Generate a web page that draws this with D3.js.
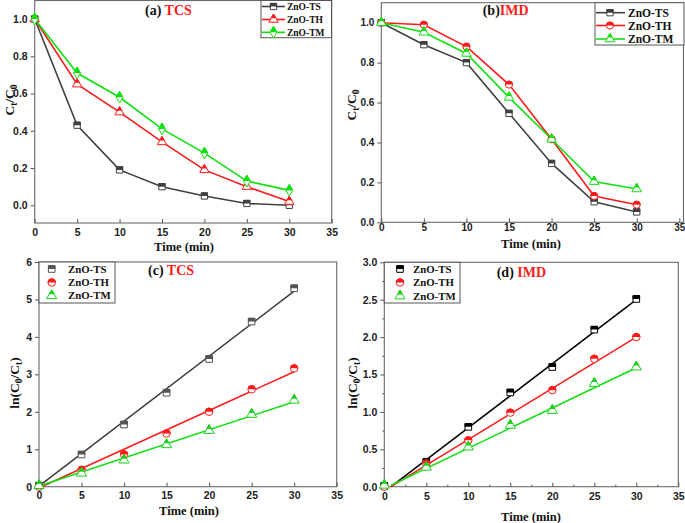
<!DOCTYPE html>
<html><head><meta charset="utf-8">
<script src="https://cdn.jsdelivr.net/npm/d3@7"></script>
<style>body{margin:0;background:#fff}svg{display:block}</style>
</head><body>
<svg id="c" width="685" height="523"></svg>
<script>
// ---------- data ----------
const times = [0, 5, 10, 15, 20, 25, 30];
const seriesNames = ["ZnO-TS", "ZnO-TH", "ZnO-TM"];
// (a) TCS  Ct/C0
const aTS = [1.00, 0.43, 0.19, 0.10, 0.05, 0.01, 0.00];
const aTH = [1.00, 0.65, 0.50, 0.34, 0.19, 0.10, 0.02];
const aTM = [1.00, 0.71, 0.58, 0.41, 0.28, 0.13, 0.08];
// (b) IMD  Ct/C0
const bTS = [1.00, 0.89, 0.80, 0.546, 0.295, 0.103, 0.052];
const bTH = [1.00, 0.99, 0.88, 0.69, 0.416, 0.132, 0.088];
const bTM = [1.00, 0.952, 0.846, 0.626, 0.416, 0.204, 0.167];
// (c) TCS  ln(C0/Ct)
const cTS = [0.03, 0.86, 1.66, 2.51, 3.41, 4.41, 5.30];
const cTH = [0.00, 0.45, 0.86, 1.42, 2.00, 2.60, 3.16];
const cTM = [0.03, 0.36, 0.71, 1.12, 1.50, 1.93, 2.31];
const cFitX = [0.3, 30];
const cFitTS = [0.07, 5.22];
const cFitTH = [0.00, 3.07];
const cFitTM = [0.04, 2.27];
// (d) IMD  ln(C0/Ct)
const dTS = [0.01, 0.33, 0.80, 1.26, 1.60, 2.10, 2.51];
const dTH = [0.00, 0.31, 0.62, 0.99, 1.29, 1.71, 2.00];
const dTM = [0.02, 0.26, 0.53, 0.82, 1.02, 1.38, 1.60];
const dFitX = [0.8, 30];
const dFitTS = [0.00, 2.50];
const dFitTH = [0.00, 2.00];
const dFitTM = [0.02, 1.59];
const xTicks = [0, 5, 10, 15, 20, 25, 30, 35];
const yTicksAB = [0, 0.2, 0.4, 0.6, 0.8, 1.0];
const yTicksC = [0, 1, 2, 3, 4, 5, 6];
const yTicksD = [0, 0.5, 1.0, 1.5, 2.0, 2.5, 3.0];

// ---------- drawing ----------
const svg = d3.select("#c");
const defs = svg.append("defs");
defs.append("clipPath").attr("id", "tophalf").attr("clipPathUnits", "objectBoundingBox")
  .append("rect").attr("x", -0.1).attr("y", -0.1).attr("width", 1.2).attr("height", 0.6);

const SERIF = "'Liberation Serif','Times New Roman',serif";
const SANS = "'Liberation Sans',Arial,sans-serif";
const RED = "#ff1a1a", GREEN = "#10e010", GRAY = "#404040";

function marker(g, type, x, y, size, color) {
  const sym = d3.symbol().type(type).size(size)();
  const m = g.append("g").attr("transform", `translate(${x},${y})`);
  m.append("path").attr("d", sym).attr("fill", "#fff").attr("stroke", color).attr("stroke-width", 1);
  m.append("path").attr("d", sym).attr("fill", color).attr("stroke", color).attr("stroke-width", 1)
    .attr("clip-path", "url(#tophalf)");
}

function panel(cfg) {
  const g = svg.append("g");
  const x = d3.scaleLinear().domain([0, 35]).range(cfg.xr);
  const y = d3.scaleLinear().domain(cfg.yd).range(cfg.yr);
  const f = cfg.frame;
  g.append("rect").attr("x", f.l).attr("y", f.t).attr("width", f.r - f.l).attr("height", f.b - f.t)
    .attr("fill", "none").attr("stroke", "#6a6a6a").attr("stroke-width", 1.1);
  const ya = d3.axisLeft(y).tickValues(cfg.yTicks).tickSize(4).tickPadding(3).tickFormat(cfg.yFmt);
  const yg = g.append("g").attr("transform", `translate(${f.l},0)`).call(ya);
  const xa = d3.axisBottom(x).tickValues(xTicks).tickSizeInner(-4).tickSizeOuter(0).tickPadding(cfg.xpad).tickFormat(d3.format("d"));
  const xg = g.append("g").attr("transform", `translate(0,${f.b})`).call(xa);
  [yg, xg].forEach(a => {
    a.select(".domain").remove();
    a.selectAll("line").attr("stroke", "#555");
    a.selectAll("text").attr("font-family", SANS).attr("font-weight", "bold").attr("font-size", cfg.tfs || 10.5).attr("fill", "#222");
  });
  if (cfg.minor) {
    const ym = d3.axisLeft(y).tickValues(cfg.minorY).tickSize(2).tickFormat("");
    const ymg = g.append("g").attr("transform", `translate(${f.l},0)`).call(ym);
    const xm = d3.axisBottom(x).tickValues(cfg.minorX).tickSizeInner(-2).tickSizeOuter(0).tickFormat("");
    const xmg = g.append("g").attr("transform", `translate(0,${f.b})`).call(xm);
    [ymg, xmg].forEach(a => { a.select(".domain").remove(); a.selectAll("line").attr("stroke", "#555"); });
  }
  cfg.series.forEach(s => {
    if (s.connect) {
      g.append("path").datum(s.values)
        .attr("d", d3.line().x((d, i) => x(times[i])).y(d => y(d)))
        .attr("fill", "none").attr("stroke", s.color).attr("stroke-width", 1.6);
    }
    if (s.fit) {
      g.append("path").datum(s.fit)
        .attr("d", d3.line().x((d, i) => x(s.fitX[i])).y(d => y(d)))
        .attr("fill", "none").attr("stroke", s.lineColor || s.color).attr("stroke-width", 1.5);
    }
  });
  cfg.series.forEach(s => {
    s.values.forEach((v, i) => marker(g, s.type, x(times[i]), y(v), s.size, s.markColor || s.color));
  });
  const L = cfg.legend;
  g.append("rect").attr("x", L.x0).attr("y", L.y0).attr("width", L.x1 - L.x0).attr("height", L.y1 - L.y0)
    .attr("fill", "#fff").attr("stroke", "#555").attr("stroke-width", 1);
  cfg.series.forEach((s, i) => {
    const yy = L.rows[i];
    if (L.lines) {
      g.append("line").attr("x1", L.lx0).attr("x2", L.lx1).attr("y1", yy).attr("y2", yy)
        .attr("stroke", s.color).attr("stroke-width", 1.6);
    }
    marker(g, s.type, L.mx, yy, s.size, s.markColor || s.color);
    g.append("text").attr("x", L.tx).attr("y", yy + L.fs * 0.35).text(seriesNames[i])
      .attr("font-family", SERIF).attr("font-weight", "bold").attr("font-size", L.fs).attr("fill", "#111");
  });
  const t = g.append("text").attr("x", cfg.title.x).attr("y", cfg.title.y)
    .attr("font-family", SERIF).attr("font-weight", "bold").attr("font-size", 14);
  t.append("tspan").text(cfg.title.p).attr("fill", "#111");
  t.append("tspan").text(cfg.title.n).attr("fill", "#ff1a1a");
  g.append("text").attr("x", cfg.xl.x).attr("y", cfg.xl.y).attr("text-anchor", "middle")
    .attr("font-family", SERIF).attr("font-weight", "bold").attr("font-size", 12.5).attr("fill", "#111")
    .text("Time (min)");
  const yl = g.append("text").attr("transform", `translate(${cfg.yl.x},${cfg.yl.y}) rotate(-90)`)
    .attr("text-anchor", "middle").attr("font-family", SERIF).attr("font-weight", "bold")
    .attr("font-size", 13.5).attr("fill", "#111");
  cfg.yl.parts.forEach(p => {
    const ts = yl.append("tspan").text(p[0]);
    if (p[1]) ts.attr("font-size", p[1] > 0 ? 9.5 : 13.5).attr("dy", p[1]);
  });
}

panel({
  xr: [34.7, 331.7], yd: [0, 1], yr: [205.3, 19], xpad: 6,
  frame: { l: 34.7, r: 331.7, t: 0.5, b: 223 },
  yTicks: yTicksAB, yFmt: d3.format(".1f"),
  series: [
    { values: aTS, color: GRAY, type: d3.symbolSquare, size: 40, connect: true },
    { values: aTH, color: RED, type: d3.symbolTriangle, size: 38, connect: true },
    { values: aTM, color: GREEN, type: d3.symbolDiamond, size: 40, connect: true }
  ],
  legend: { x0: 261, x1: 331.5, y0: 0.5, y1: 37.7, rows: [6.5, 19.5, 32.3], lines: true, lx0: 262, lx1: 285, mx: 273.5, tx: 287, fs: 9.5 },
  title: { x: 145, y: 15, p: "(a) ", n: "TCS" },
  xl: { x: 184, y: 251 },
  yl: { x: 14, y: 100, parts: [["C"], ["t", 3], ["/C", -3], ["0", 3]] }
});

panel({
  xr: [381.3, 679.3], yd: [0, 1], yr: [222.3, 22.7], xpad: 2, tfs: 10,
  frame: { l: 381.3, r: 683.5, t: 2.7, b: 222.3 },
  yTicks: yTicksAB, yFmt: d3.format(".1f"),
  series: [
    { values: bTS, color: GRAY, type: d3.symbolSquare, size: 40, connect: true },
    { values: bTH, color: RED, type: d3.symbolCircle, size: 40, connect: true },
    { values: bTM, color: GREEN, type: d3.symbolTriangle, size: 40, connect: true }
  ],
  legend: { x0: 595, x1: 684, y0: 2.7, y1: 45, rows: [12.7, 25.5, 39], lines: true, lx0: 596, lx1: 625, mx: 610, tx: 628, fs: 11.5 },
  title: { x: 482.7, y: 14.5, p: "(b)", n: "IMD" },
  xl: { x: 531, y: 247.5 },
  yl: { x: 356, y: 105, parts: [["C"], ["t", 3], ["/C", -3], ["0", 3]] }
});

panel({
  xr: [39, 336.7], yd: [0, 6], yr: [486.7, 262], xpad: 5,
  frame: { l: 39, r: 336.7, t: 262, b: 486.7 },
  yTicks: yTicksC, yFmt: d3.format("d"),
  series: [
    { values: cTS, color: "#3a3a3a", markColor: "#555", type: d3.symbolSquare, size: 44, fit: cFitTS, fitX: cFitX },
    { values: cTH, color: RED, type: d3.symbolCircle, size: 44, fit: cFitTH, fitX: cFitX },
    { values: cTM, color: GREEN, markColor: "#1ad01a", type: d3.symbolTriangle, size: 44, fit: cFitTM, fitX: cFitX }
  ],
  legend: { x0: 39, x1: 115, y0: 262, y1: 303, rows: [269, 282.5, 295.7], lines: false, mx: 51.7, tx: 68, fs: 10.8 },
  title: { x: 148, y: 275, p: "(c) ", n: "TCS" },
  xl: { x: 189, y: 515 },
  yl: { x: 19, y: 383, parts: [["ln(C"], ["0", 3], ["/C", -3], ["t", 3], [")", -3]] }
});

panel({
  xr: [384.3, 678.3], yd: [0, 3], yr: [486.7, 262.3], xpad: 6,
  frame: { l: 384.3, r: 678.3, t: 262.3, b: 486.7 },
  yTicks: yTicksD, yFmt: d3.format(".1f"),
  minor: true, minorY: [0.25, 0.75, 1.25, 1.75, 2.25, 2.75], minorX: [2.5, 7.5, 12.5, 17.5, 22.5, 27.5, 32.5],
  series: [
    { values: dTS, color: "#000", type: d3.symbolSquare, size: 44, fit: dFitTS, fitX: dFitX },
    { values: dTH, color: RED, type: d3.symbolCircle, size: 44, fit: dFitTH, fitX: dFitX },
    { values: dTM, color: GREEN, markColor: "#1ad01a", type: d3.symbolTriangle, size: 44, fit: dFitTM, fitX: dFitX }
  ],
  legend: { x0: 384.3, x1: 460, y0: 262.3, y1: 303, rows: [269, 282.5, 296], lines: false, mx: 400, tx: 413, fs: 10.8 },
  title: { x: 496.7, y: 277, p: "(d) ", n: "IMD" },
  xl: { x: 531, y: 521 },
  yl: { x: 357, y: 383, parts: [["ln(C"], ["0", 3], ["/C", -3], ["t", 3], [")", -3]] }
});
</script>
</body></html>
